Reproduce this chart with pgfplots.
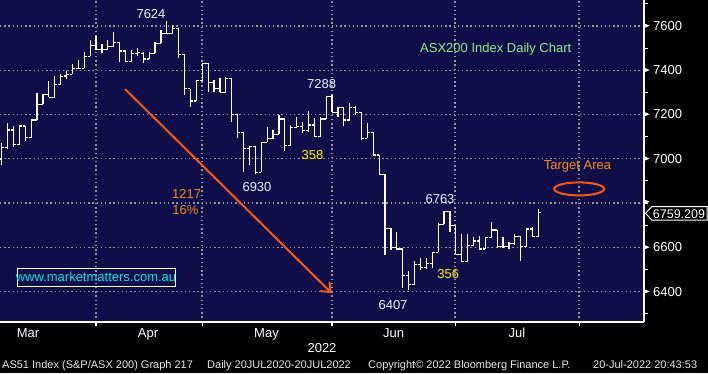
\documentclass[border=0pt]{standalone}
\usepackage{pgfplots}
\pgfplotsset{compat=1.18}
\usepackage{pgfplotstable}
\usepackage{fontspec}
\setmainfont{Liberation Sans}
\usetikzlibrary{arrows.meta}
\definecolor{navy}{RGB}{16,14,72}
\definecolor{gridgray}{RGB}{150,150,160}
\definecolor{lblwhite}{RGB}{232,240,255}
\definecolor{lblgreen}{RGB}{144,238,144}
\definecolor{lblorange}{RGB}{240,140,30}
\definecolor{arrowcol}{RGB}{245,90,20}
\definecolor{urlcyan}{RGB}{0,230,230}
\definecolor{footgray}{RGB}{232,232,232}
\newcommand\ticks{\fontsize{13bp}{15bp}\selectfont}
\newcommand\foot{\fontsize{11bp}{13bp}\selectfont}
\newcommand\tri{\tikz[baseline=-0.36em]\fill[white] (0,1.9bp) -- (4.5bp,0) -- (0,-1.9bp) -- cycle;}

\pgfplotstableread{
i o h l c
0 6999 7070 6972 7052
1 7052 7163 7044 7130
2 7130 7148 7052 7063
3 7063 7148 7063 7148
4 7148 7148 7081 7096
5 7096 7178 7096 7175
6 7175 7296 7175 7246
7 7246 7293 7246 7291
8 7291 7349 7278 7278
9 7278 7374 7278 7337
10 7337 7383 7334 7371
11 7374 7398 7359 7382
12 7382 7428 7382 7406
13 7406 7446 7406 7409
14 7409 7480 7409 7462
15 7462 7535 7462 7511
16 7511 7555 7492 7495
17 7495 7517 7477 7492
18 7492 7537 7492 7507
19 7507 7571 7507 7526
20 7526 7526 7439 7487
21 7487 7487 7439 7439
22 7439 7492 7439 7477
23 7477 7499 7462 7481
24 7477 7481 7431 7451
25 7451 7484 7451 7477
26 7477 7526 7477 7522
27 7522 7582 7522 7564
28 7567 7624 7564 7567
29 7567 7605 7564 7590
30 7590 7590 7454 7472
31 7472 7472 7288 7316
32 7316 7316 7236 7261
33 7261 7356 7261 7353
34 7353 7431 7353 7431
35 7431 7431 7303 7346
36 7346 7356 7303 7316
37 7316 7367 7300 7300
38 7300 7368 7300 7364
39 7364 7364 7165 7201
40 7201 7201 7093 7120
41 7120 7120 6942 7047
42 7047 7059 6972 7055
43 7055 7059 6930 6939
44 6939 7074 6939 7074
45 7074 7145 7074 7093
46 7093 7130 7090 7111
47 7111 7198 7111 7180
48 7180 7180 7037 7059
49 7059 7153 7059 7141
50 7141 7190 7141 7145
51 7145 7168 7115 7126
52 7126 7216 7120 7153
53 7153 7183 7100 7100
54 7100 7190 7100 7180
55 7180 7284 7180 7281
56 7281 7288 7210 7210
57 7210 7236 7190 7231
58 7231 7231 7150 7175
59 7175 7251 7175 7231
60 7231 7240 7198 7210
61 7210 7210 7085 7093
62 7093 7160 7093 7120
63 7120 7120 7017 7017
64 7017 7017 6930 6930
65 6930 6930 6566 6686
66 6686 6686 6588 6599
67 6599 6668 6588 6593
68 6593 6593 6415 6472
69 6472 6493 6407 6433
70 6433 6538 6433 6523
71 6523 6554 6498 6508
72 6508 6554 6502 6528
73 6528 6581 6505 6578
74 6578 6709 6578 6704
75 6704 6763 6704 6763
76 6763 6763 6668 6698
77 6698 6698 6569 6569
78 6569 6659 6535 6538
79 6538 6659 6535 6608
80 6608 6648 6608 6629
81 6629 6653 6593 6593
82 6593 6648 6593 6644
83 6644 6713 6644 6678
84 6678 6678 6599 6603
85 6603 6648 6599 6603
86 6603 6626 6593 6618
87 6618 6659 6611 6648
88 6648 6648 6538 6603
89 6603 6686 6603 6683
90 6683 6694 6648 6648
91 6648 6773 6648 6759.209
}\ohlc

\begin{document}
\begin{tikzpicture}[x=1bp,y=1bp]
\useasboundingbox (0,0) rectangle (708,373);
\fill[black] (0,0) rectangle (708,373);
\begin{axis}[
  at={(0bp,51bp)}, anchor=south west,
  width=644bp, height=322bp, scale only axis,
  xmin=-0.29, xmax=108.9, ymin=6263, ymax=7717,
  axis background/.style={fill=navy},
  axis x line*=bottom, axis y line*=right,
  axis line style={white, line width=1.3bp},
  xtick={15.99,33.97,56.0,76.87,97.9}, xticklabels={},
  ytick={6400,6600,...,7600},
  yticklabels={\tri\hspace{3.5bp}6400,\tri\hspace{3.5bp}6600,\tri,\tri\hspace{3.5bp}7000,\tri\hspace{3.5bp}7200,\tri\hspace{3.5bp}7400,\tri\hspace{3.5bp}7600},
  minor ytick={6300,6500,...,7700},
  tick align=outside,
  major tick length=4bp, minor tick length=4bp,
  tick style={white, line width=1.1bp},
  grid=major,
  major grid style={gridgray, line width=1.3bp, dash pattern=on 1.4bp off 2.8bp},
  yticklabel style={anchor=west, inner sep=0pt, text=white, font=\ticks, xshift=-3bp},
]
% high-low
\addplot[draw=none, mark=none, forget plot,
  error bars/.cd, y dir=minus, y explicit, error mark=none,
  error bar style={draw=white, line width=1.2bp, solid}]
  table[x=i, y=h, y error minus expr=\thisrow{h}-\thisrow{l}] {\ohlc};
% open ticks
\addplot[draw=none, mark=none, forget plot,
  error bars/.cd, x dir=minus, x fixed=0.45, error mark=none,
  error bar style={draw=white, line width=1.2bp, solid}]
  table[x=i, y=o] {\ohlc};
% close ticks
\addplot[draw=none, mark=none, forget plot,
  error bars/.cd, x dir=plus, x fixed=0.45, error mark=none,
  error bar style={draw=white, line width=1.2bp, solid}]
  table[x=i, y=c] {\ohlc};
\draw[arrowcol, line width=2bp, -{Straight Barb[length=8bp, width=13bp]}]
  (axis cs:20.91,7315) -- (axis cs:55.96,6393);
\draw[arrowcol, line width=2bp] (axis cs:97.9,6864) ellipse [x radius=25bp, y radius=6.5bp];
\end{axis}
% month labels
\begin{scope}[every node/.style={anchor=base, inner sep=0pt, text=white, font=\ticks}]
\node at (28,35.7) {Mar};
\node at (148,35.7) {Apr};
\node at (266.5,35.7) {May};
\node at (393.5,35.7) {Jun};
\node at (517,35.7) {Jul};
\node at (322,20.3) {2022};
\end{scope}
% footer
\begin{scope}[every node/.style={anchor=base west, inner sep=0pt, text=footgray, font=\foot}]
\node at (2,5) {AS51 Index (S\&P/ASX 200) Graph 217};
\node at (207,5) {Daily 20JUL2020-20JUL2022};
\node at (368,5) {Copyright© 2022 Bloomberg Finance L.P.};
\node at (593,5) {20-Jul-2022 20:43:53};
\end{scope}
% annotations
\begin{scope}[every node/.style={anchor=base, inner sep=0pt, font=\ticks}]
\node[text=lblwhite] at (151,354.7) {7624};
\node[text=lblwhite] at (321.7,284.7) {7288};
\node[text=lblwhite] at (257,182) {6930};
\node[text=yellow] at (312.5,214) {358};
\node[text=lblwhite] at (440,169.7) {6763};
\node[text=yellow] at (448.3,94.3) {356};
\node[text=lblwhite] at (393,63.7) {6407};
\node[text=lblorange] at (186.7,174.7) {1217};
\node[text=lblorange] at (185.5,159) {16\%};
\node[text=lblgreen, anchor=base west] at (420,320.3) {ASX200 Index Daily Chart};
\node[text=lblorange] at (577.5,203.7) {Target Area};
\draw[white, line width=1bp] (17,86.7) rectangle (175,105);
\node[text=urlcyan] at (96,91.3) {www.marketmatters.com.au};
\end{scope}
% last price box
\filldraw[fill=black, draw=white, line width=1bp] (645.5,159.7) -- (652,166.5) -- (707,166.5) -- (707,152.8) -- (652,152.8) -- cycle;
\node[anchor=base, inner sep=0pt, text=white, font=\fontsize{12.5bp}{14bp}\selectfont] at (679,155) {6759.209};
\end{tikzpicture}
\end{document}
